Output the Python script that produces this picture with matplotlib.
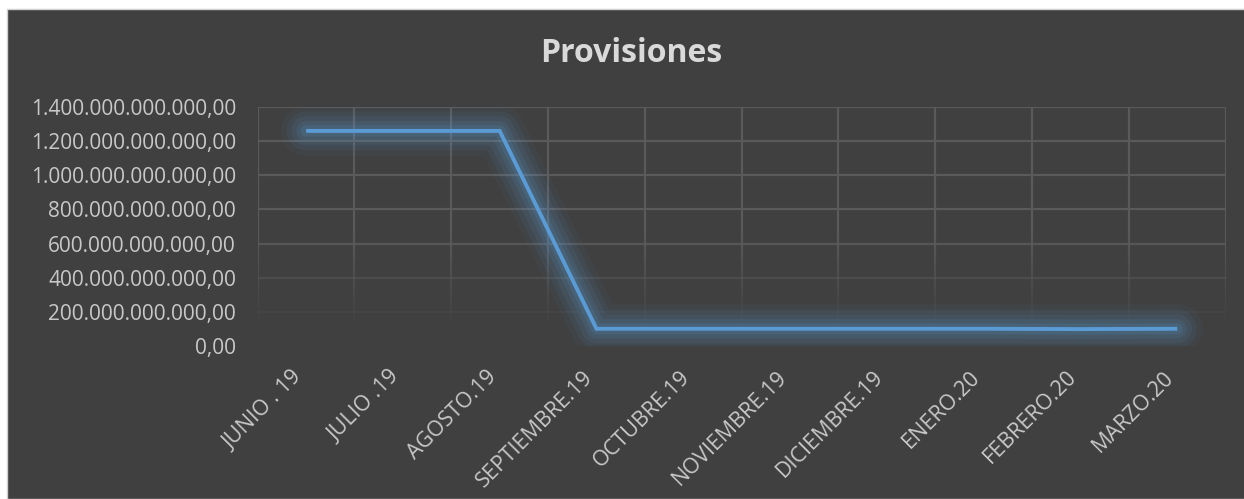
import numpy as np
import matplotlib
matplotlib.use("Agg")
import matplotlib.pyplot as plt
from matplotlib.collections import LineCollection
from matplotlib.patches import Rectangle
from matplotlib.ticker import FuncFormatter
from matplotlib.transforms import ScaledTranslation

# datos
meses = ["JUNIO . 19", "JULIO .19", "AGOSTO.19", "SEPTIEMBRE.19", "OCTUBRE.19",
         "NOVIEMBRE.19", "DICIEMBRE.19", "ENERO.20", "FEBRERO.20", "MARZO.20"]
provisiones = [1.26e12, 1.26e12, 1.26e12, 1.01e11, 1.01e11,
               1.01e11, 1.01e11, 1.01e11, 0.99e11, 1.01e11]
ticks_y = [0, 2e11, 4e11, 6e11, 8e11, 1.0e12, 1.2e12, 1.4e12]

fondo = "#404040"
azul = "#5B9BD5"
rejilla = "#5A5A5A"
texto = "#C8C8C8"

plt.rcParams["font.family"] = ["Open Sans", "DejaVu Sans"]

W, H = 1244, 499
fig = plt.figure(figsize=(W / 100, H / 100), dpi=100, facecolor="white")

# fondo oscuro del grafico
fig.patches.append(Rectangle((7 / W, 0), 1, (H - 9) / H, transform=fig.transFigure,
                             facecolor=fondo, edgecolor="#D0D0D0", linewidth=1, zorder=-10))

ax = fig.add_axes([257.7 / W, (H - 346) / H, (1225.6 - 257.7) / W, (346 - 107) / H])
ax.set_zorder(5)
ax.patch.set_alpha(0)
for s in ax.spines.values():
    s.set_visible(False)

x = np.arange(len(meses))
ax.set_xlim(-0.5, len(meses) - 0.5)
ax.set_ylim(0, 1.4e12)


def alfa(y):
    f = y / 1.4e12
    return float(np.clip((f - 0.08) / 0.4, 0, 1))


# rejilla horizontal que se desvanece hacia abajo
for yv in ticks_y:
    a = alfa(yv)
    if a > 0:
        ax.plot([-0.5, len(meses) - 0.5], [yv, yv], color=rejilla, lw=1.6,
                alpha=a, zorder=1, solid_capstyle="butt")

# rejilla vertical con degradado
ys = np.linspace(0, 1.4e12, 120)
segs, cols = [], []
base = matplotlib.colors.to_rgb(rejilla)
for xv in np.arange(-0.5, len(meses), 1.0):
    for i in range(len(ys) - 1):
        segs.append([(xv, ys[i]), (xv, ys[i + 1])])
        cols.append((*base, alfa((ys[i] + ys[i + 1]) / 2)))
ax.add_collection(LineCollection(segs, colors=cols, linewidths=1.6, zorder=1))

# brillo alrededor de la linea
for lw, a in [(36, 0.05), (28, 0.07), (21, 0.09), (14, 0.11), (8, 0.14)]:
    ax.plot(x, provisiones, color=azul, lw=lw, alpha=a, solid_capstyle="round",
            solid_joinstyle="round", zorder=2)
ax.plot(x, provisiones, color=azul, lw=2.8, solid_capstyle="butt",
        solid_joinstyle="miter", zorder=3)


def formato(v, pos):
    s = f"{v:,.2f}"
    return s.replace(",", "X").replace(".", ",").replace("X", ".")


ax.set_yticks(ticks_y)
ax.yaxis.set_major_formatter(FuncFormatter(formato))
ax.set_xticks(x)
ax.set_xticklabels(meses, rotation=45, ha="right", va="top", rotation_mode="anchor")
ax.tick_params(axis="both", length=0, colors=texto)
ax.tick_params(axis="y", pad=15.6, labelsize=15)
ax.tick_params(axis="x", pad=17, labelsize=15.5)

# desplazar etiquetas para que terminen en el centro de la categoria
desp = ScaledTranslation(-14 / 100, 3 / 100, fig.dpi_scale_trans)
for lab in ax.get_xticklabels():
    lab.set_transform(lab.get_transform() + desp)

fig.text(631 / W, 1 - 53 / H, "Provisiones", ha="center", va="center",
         fontsize=23, fontweight="bold", color="#D9D9D9")

fig.savefig("out.png", dpi=100, facecolor="white")
